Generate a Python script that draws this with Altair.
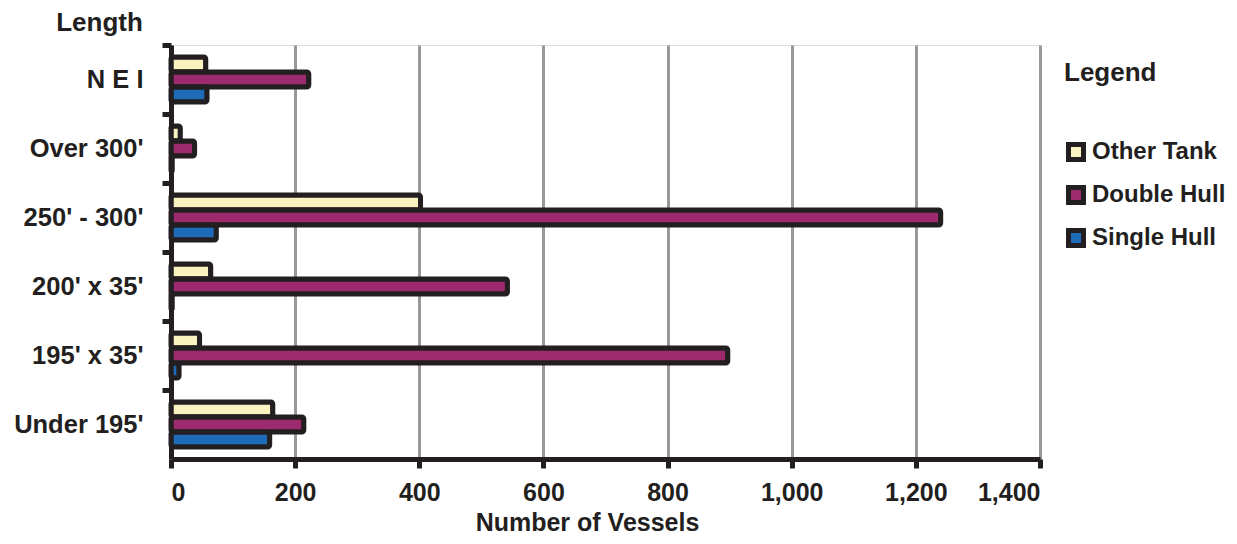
import altair as alt
import pandas as pd

categories = ["N E I", "Over 300'", "250' - 300'", "200' x 35'", "195' x 35'", "Under 195'"]
series = ["Other Tank", "Double Hull", "Single Hull"]
other_tank = [56, 15, 402, 64, 46, 164]
double_hull = [222, 38, 1240, 542, 897, 214]
single_hull = [58, 2, 73, 2, 13, 159]
x_ticks = [0, 200, 400, 600, 800, 1000, 1200, 1400]
colors = ["#FAF3C0", "#9E2A6E", "#1E6BB8"]

rows = []
for i, c in enumerate(categories):
    for s, vals in zip(series, [other_tank, double_hull, single_hull]):
        rows.append({"Length": c, "Series": s, "Vessels": vals[i]})
df = pd.DataFrame(rows)

FONT = "Liberation Sans"
INK = "#231F20"
FS = 26

chart = alt.Chart(df).mark_bar(
    stroke=INK, strokeWidth=5, cornerRadius=2
).encode(
    y=alt.Y("Length:N", sort=categories,
            scale=alt.Scale(paddingInner=0, paddingOuter=0),
            axis=alt.Axis(title="Length", titleAngle=0, titleX=-72, titleY=-23,
                          titleAlign="center", titleBaseline="middle",
                          titleFontSize=FS, titleFont=FONT, titleFontWeight="bold",
                          titleColor=INK,
                          labelFont=FONT, labelFontSize=FS - 0.5, labelFontWeight="bold",
                          labelColor=INK, labelPadding=19,
                          bandPosition=0, tickSize=9, tickWidth=5, tickColor=INK,
                          domainColor=INK, domainWidth=5, grid=False)),
    yOffset=alt.YOffset("Series:N", sort=series,
                        scale=alt.Scale(paddingInner=0, paddingOuter=0.8)),
    x=alt.X("Vessels:Q",
            scale=alt.Scale(domain=[0, 1400], nice=False),
            axis=alt.Axis(title="Number of Vessels", values=x_ticks, format=",d",
                          titleFont=FONT, titleFontSize=FS - 1, titleFontWeight="bold",
                          titleColor=INK, titleX=416, titleY=71,
                          titleAlign="center", titleBaseline="alphabetic",
                          labelFont=FONT, labelFontSize=FS - 1, labelFontWeight="bold",
                          labelColor=INK, labelPadding=12,
                          tickSize=9, tickWidth=5, tickColor=INK,
                          domainColor=INK, domainWidth=5,
                          grid=True, gridColor="#999999", gridWidth=3)),
    color=alt.Color("Series:N", sort=series,
                    scale=alt.Scale(domain=series, range=colors),
                    legend=alt.Legend(title="Legend", orient="none",
                                      legendX=893, legendY=15,
                                      symbolType="square", symbolSize=225,
                                      symbolStrokeColor=INK, symbolStrokeWidth=5,
                                      symbolOpacity=1,
                                      titleFont=FONT, titleFontSize=FS,
                                      titleFontWeight="bold", titleColor=INK,
                                      titlePadding=54,
                                      labelFont=FONT, labelFontSize=FS - 2,
                                      labelFontWeight="bold", labelColor=INK,
                                      labelOffset=4, rowPadding=7, labelLimit=300)),
).properties(
    width=869, height=414,
    autosize=alt.AutoSizeParams(type="none"),
    padding={"left": 163, "top": 37, "right": 189, "bottom": 77},
).configure_view(
    stroke="#999999", strokeWidth=3
).configure(background="white")

chart.save("out.html", embed_options={"renderer": "svg", "actions": False})
